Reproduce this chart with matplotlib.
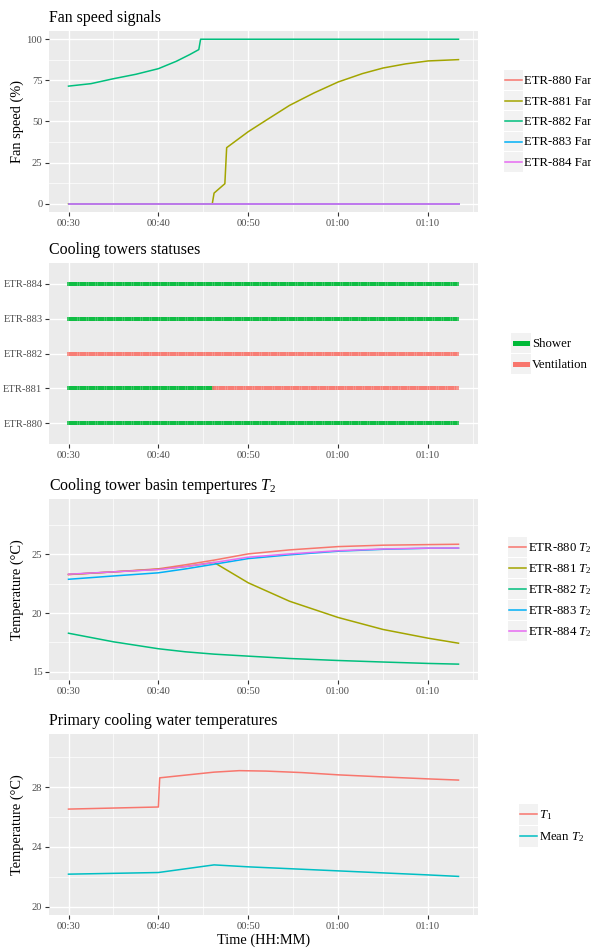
"""
Cooling tower overview: fan speeds, statuses, basin and primary water temperatures.
"""

import numpy as np
import matplotlib
matplotlib.use("Agg")
import matplotlib.pyplot as plt
from matplotlib.patches import Rectangle
from matplotlib.lines import Line2D
from matplotlib.ticker import FuncFormatter, MultipleLocator

plt.rcParams['font.family'] = ['Liberation Serif', 'DejaVu Serif']
plt.rcParams['mathtext.fontset'] = 'custom'
plt.rcParams['mathtext.rm'] = 'Liberation Serif'
plt.rcParams['mathtext.it'] = 'Liberation Serif:italic'

# ---- data (time as minutes after midnight) ----
towers = ['ETR-880', 'ETR-881', 'ETR-882', 'ETR-883', 'ETR-884']
tower_colors = ['#F8766D', '#A3A500', '#00BF7D', '#00B0F6', '#E76BF3']

# fan speed signals (%)
fan_880_t = [30, 73.4]
fan_880 = [0, 0]
fan_881_t = [30, 46.0, 46.2, 47.4, 47.6, 50, 52, 54.6, 57.3, 60, 62.7, 65, 67.5, 70, 73.4]
fan_881 = [0, 0, 6.5, 12.2, 34.1, 43.8, 50.8, 59.8, 67.3, 74.0, 79.1, 82.5, 85.0, 86.8, 87.6]
fan_882_t = [30, 32.5, 35, 37.5, 40, 42, 43.5, 44.5, 44.7, 73.4]
fan_882 = [71.5, 73.0, 76.0, 78.7, 82.1, 86.6, 90.7, 93.7, 100, 100]
fan_883_t = [30, 73.4]
fan_883 = [0, 0]
fan_884_t = [30, 73.4]
fan_884 = [0, 0]

# tower statuses: (tower, start, end, status)
status_names = ['Shower', 'Ventilation']
status_colors = ['#00BA38', '#F8766D']
status_segments = [
    ('ETR-880', 30.0, 73.4, 'Shower'),
    ('ETR-881', 30.0, 46.2, 'Shower'),
    ('ETR-881', 46.2, 73.4, 'Ventilation'),
    ('ETR-882', 30.0, 73.4, 'Ventilation'),
    ('ETR-883', 30.0, 73.4, 'Shower'),
    ('ETR-884', 30.0, 73.4, 'Shower'),
]
log_step = 0.25  # status log interval (min)

# basin temperatures T2 (deg C)
t2_t = [30, 35, 40, 43, 46.2, 50, 54.6, 60, 65, 70, 73.4]
t2_880 = [23.27, 23.50, 23.76, 24.10, 24.50, 25.03, 25.37, 25.65, 25.77, 25.82, 25.85]
t2_881 = [23.28, 23.50, 23.72, 23.95, 24.30, 22.57, 21.00, 19.62, 18.60, 17.86, 17.43]
t2_882 = [18.28, 17.55, 16.96, 16.70, 16.50, 16.33, 16.13, 15.96, 15.83, 15.71, 15.65]
t2_883 = [22.87, 23.15, 23.42, 23.75, 24.15, 24.63, 24.95, 25.26, 25.42, 25.51, 25.52]
t2_884 = [23.30, 23.50, 23.70, 23.95, 24.30, 24.75, 25.03, 25.30, 25.45, 25.52, 25.53]

# primary cooling water temperatures
t1_t = [30, 40.0, 40.15, 43, 46.2, 49, 52, 56, 60, 65, 70, 73.4]
t1 = [26.53, 26.67, 28.62, 28.80, 29.00, 29.10, 29.07, 28.97, 28.82, 28.68, 28.55, 28.47]
mean_t2_t = [30, 40, 46.2, 50, 60, 70, 73.4]
mean_t2 = [22.18, 22.29, 22.80, 22.67, 22.40, 22.13, 22.03]

W, H = 591, 950
fig = plt.figure(figsize=(W / 100, H / 100), dpi=100)


def px_axes(top, bottom, left=49, right=478):
    return fig.add_axes([left / W, 1 - bottom / H, (right - left) / W, (bottom - top) / H])


def hhmm(m, pos=None):
    return f"{int(m // 60):02d}:{int(round(m % 60)):02d}"


def ggstyle(ax, title):
    ax.set_facecolor('#EBEBEB')
    for s in ax.spines.values():
        s.set_visible(False)
    ax.set_axisbelow(True)
    ax.grid(which='major', color='white', lw=1.0)
    ax.grid(which='minor', color='white', lw=0.5)
    ax.tick_params(which='major', length=2.75, width=0.8, color='#333333',
                   labelcolor='#4D4D4D', labelsize=7.6, pad=2.0)
    ax.tick_params(which='minor', length=0)
    ax.set_xlim(27.83, 75.57)
    ax.xaxis.set_major_locator(MultipleLocator(10))
    ax.xaxis.set_minor_locator(MultipleLocator(5))
    ax.xaxis.set_major_formatter(FuncFormatter(hhmm))
    ax.set_title(title, loc='left', fontsize=11.4, pad=6.5)


def ylabel(ax, text):
    ax.set_ylabel(text, fontsize=10.4, va='center')
    ax.yaxis.set_label_coords(-0.075, 0.5)


def legend(labels, colors, x0, yc, key_w=19, key_h=20.5, kind='line'):
    top = yc - len(labels) * key_h / 2
    for i, (lab, c) in enumerate(zip(labels, colors)):
        y = top + i * key_h
        fig.add_artist(Rectangle((x0 / W, 1 - (y + key_h - 0.5) / H), key_w / W,
                                 (key_h - 1) / H, transform=fig.transFigure,
                                 color='#F2F2F2', lw=0))
        ym = 1 - (y + key_h / 2) / H
        if kind == 'line':
            fig.add_artist(Line2D([(x0 + 1) / W, (x0 + key_w - 1) / W], [ym, ym],
                                  transform=fig.transFigure, color=c, lw=1.1))
        else:
            fig.add_artist(Rectangle(((x0 + 1.5) / W, ym - 2.5 / H), (key_w - 3) / W,
                                     5 / H, transform=fig.transFigure, color=c, lw=0))
        fig.text((x0 + key_w + 1) / W, 1 - (y + key_h / 2 + 4) / H, lab,
                 fontsize=9.2, va='baseline', ha='left')


# Fan speed signals
ax1 = px_axes(31, 212)
ggstyle(ax1, 'Fan speed signals')
fan_series = [(fan_880_t, fan_880), (fan_881_t, fan_881), (fan_882_t, fan_882),
              (fan_883_t, fan_883), (fan_884_t, fan_884)]
for (t, v), c in zip(fan_series, tower_colors):
    ax1.plot(t, v, color=c, lw=1.1)
ax1.set_ylim(-5, 105)
ax1.yaxis.set_major_locator(MultipleLocator(25))
ax1.yaxis.set_minor_locator(MultipleLocator(12.5))
ylabel(ax1, 'Fan speed (%)')
legend([f'{n} Fan speed' for n in towers], tower_colors, 504, 121)

# Cooling towers statuses
ax2 = px_axes(263, 444)
ggstyle(ax2, 'Cooling towers statuses')
for tower, start, end, status in status_segments:
    ts = np.arange(start, end + 1e-9, log_step)
    yv = np.full(len(ts), towers.index(tower))
    ax2.scatter(ts, yv, marker='s', s=11.5, linewidths=0, alpha=0.75,
                color=status_colors[status_names.index(status)])
ax2.set_ylim(-0.6, 4.6)
ax2.set_yticks(range(len(towers)))
ax2.set_yticklabels(towers)
legend(status_names, status_colors, 511, 353.8, key_w=20, key_h=21, kind='fill')

# Cooling tower basin temperatures
ax3 = px_axes(499, 680)
ggstyle(ax3, 'Cooling tower basin tempertures $T_2$')
for v, c in zip([t2_880, t2_881, t2_882, t2_883, t2_884], tower_colors):
    ax3.plot(t2_t, v, color=c, lw=1.1)
ax3.set_ylim(14.3, 29.7)
ax3.yaxis.set_major_locator(MultipleLocator(5))
ax3.yaxis.set_minor_locator(MultipleLocator(2.5))
ylabel(ax3, 'Temperature (°C)')
legend([f'{n} $T_2$' for n in towers], tower_colors, 508, 589, key_h=21)

# Primary cooling water temperatures
ax4 = px_axes(734, 915)
ggstyle(ax4, 'Primary cooling water temperatures')
ax4.plot(t1_t, t1, color='#F8766D', lw=1.1)
ax4.plot(mean_t2_t, mean_t2, color='#00BFC4', lw=1.1)
ax4.set_ylim(19.45, 31.55)
ax4.yaxis.set_major_locator(MultipleLocator(4))
ax4.yaxis.set_minor_locator(MultipleLocator(2))
ylabel(ax4, 'Temperature (°C)')
ax4.set_xlabel('Time (HH:MM)', fontsize=10.4, labelpad=2)
legend(['$T_1$', 'Mean $T_2$'], ['#F8766D', '#00BFC4'], 519, 825, key_h=22)

fig.savefig('out.png', dpi=100)
